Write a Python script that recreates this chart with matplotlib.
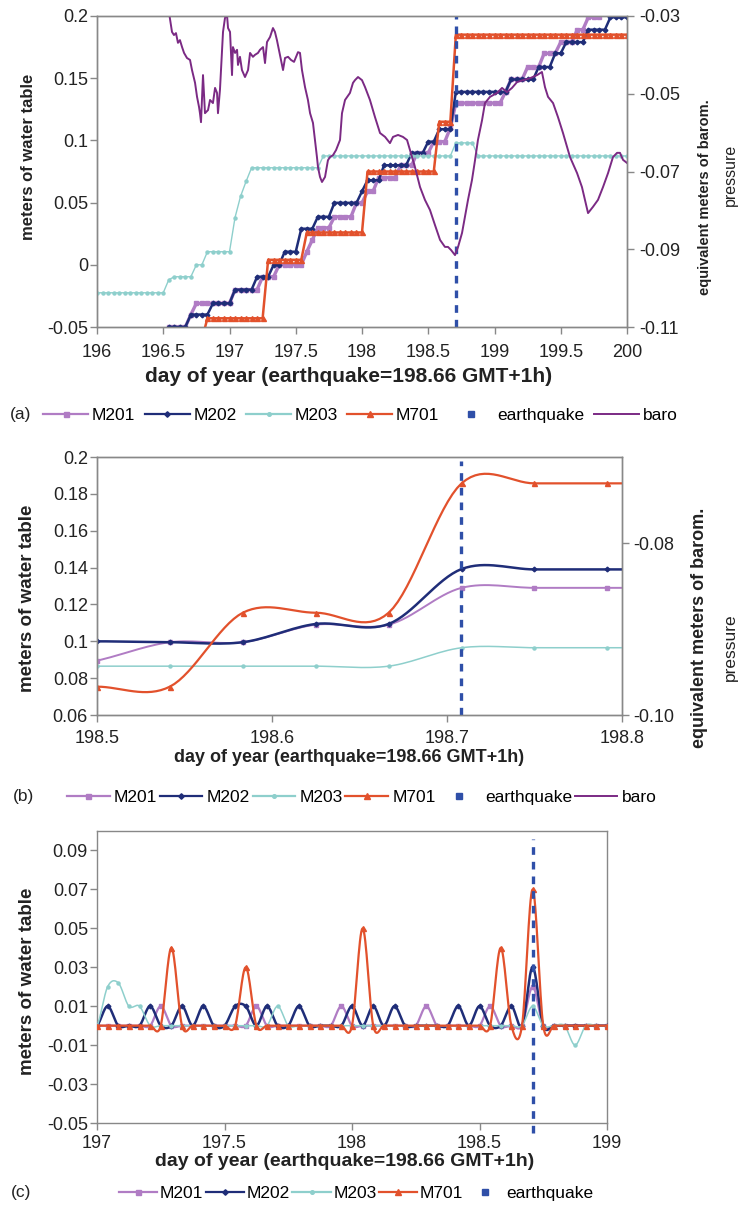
"""
Water table response to the earthquake at four wells (M201, M202, M203, M701)
with barometric pressure, three panels:
  (a) four days of hourly readings, (b) zoom on the quake, (c) hourly changes.
"""
import numpy as np
import matplotlib
matplotlib.use("Agg")
import matplotlib.pyplot as plt
from matplotlib.lines import Line2D

plt.rcParams["font.family"] = ["Liberation Sans", "DejaVu Sans"]
plt.rcParams["axes.unicode_minus"] = False

W, H = 739, 1215
EQ_DAY = 198.708

C201 = "#b07cc4"
C202 = "#1f2d78"
C203 = "#8ecfcc"
C701 = "#e2512c"
CEQ = "#2f4fa8"
CBARO = "#7b2a84"
SPINE = "#888888"
TXT = "#222222"

# ---- panel (a): hourly readings 196.0 .. 200.0 as runs of (level, hours)
a_m201_level = [-0.06, -0.05, -0.040, -0.031, -0.020, -0.0096, 0.0, 0.0105, 0.020,
                0.0297, 0.0386, 0.0498, 0.059, 0.070, 0.080, 0.090, 0.099, 0.110,
                0.130, 0.139, 0.149, 0.159, 0.170, 0.179, 0.189, 0.199, 0.21]
a_m201_hours = [13, 4, 1, 7, 5, 3, 5, 1, 1, 3, 4, 2, 2, 4, 3, 3, 3, 1, 9, 1, 3, 3, 3, 3, 2, 3, 5]

a_m202_level = [-0.06, -0.05, -0.040, -0.031, -0.020, -0.0096, 0.0, 0.0105, 0.029,
                0.0386, 0.0498, 0.059, 0.068, 0.080, 0.090, 0.099, 0.109, 0.139,
                0.149, 0.159, 0.170, 0.179, 0.189, 0.199]
a_m202_hours = [13, 4, 4, 4, 4, 3, 2, 3, 3, 3, 5, 1, 3, 5, 3, 2, 3, 10, 5, 3, 2, 4, 4, 4]

a_m203_level = [-0.0225, -0.012, -0.0096, 0.0, 0.0105, 0.038, 0.055, 0.067, 0.078,
                0.0875, 0.098, 0.0875]
a_m203_hours = [13, 1, 4, 2, 5, 1, 1, 1, 13, 24, 4, 28]

a_m701_level = [-0.06, -0.043, 0.004, 0.026, 0.075, 0.115, 0.185]
a_m701_hours = [20, 11, 7, 11, 13, 3, 32]

baro_day = [196.543, 196.566, 196.581, 196.596, 196.611, 196.626, 196.642, 196.657,
            196.679, 196.702, 196.717, 196.740, 196.755, 196.770, 196.777, 196.785,
            196.800, 196.815, 196.838, 196.853, 196.875, 196.891, 196.906, 196.913,
            196.928, 196.943, 196.951, 196.966, 196.981, 196.989, 197.004, 197.019,
            197.026, 197.042, 197.057, 197.064, 197.079, 197.094, 197.117, 197.140,
            197.155, 197.177, 197.192, 197.215, 197.230, 197.253, 197.268, 197.283,
            197.306, 197.328, 197.343, 197.358, 197.381, 197.404, 197.419, 197.442,
            197.464, 197.487, 197.517, 197.532, 197.547, 197.570, 197.592, 197.608,
            197.630, 197.645, 197.660, 197.668, 197.683, 197.698, 197.721, 197.743,
            197.758, 197.781, 197.804, 197.834, 197.849, 197.872, 197.909, 197.932,
            197.947, 197.970, 198.000, 198.023, 198.060, 198.098, 198.136, 198.174,
            198.211, 198.234, 198.272, 198.309, 198.340, 198.362, 198.400, 198.438,
            198.475, 198.513, 198.551, 198.589, 198.626, 198.649, 198.672, 198.702,
            198.725, 198.755, 198.777, 198.800, 198.830, 198.853, 198.875, 198.906,
            198.928, 198.966, 199.019, 199.057, 199.094, 199.132, 199.170, 199.215,
            199.268, 199.321, 199.358, 199.381, 199.404, 199.442, 199.479, 199.517,
            199.570, 199.623, 199.660, 199.683, 199.706, 199.743, 199.781, 199.819,
            199.857, 199.894, 199.925, 199.947, 199.970, 200.000]
baro_m = [-0.0290, -0.0341, -0.0349, -0.0344, -0.0369, -0.0362, -0.0380, -0.0395,
          -0.0408, -0.0413, -0.0439, -0.0472, -0.0508, -0.0534, -0.0550, -0.0573,
          -0.0452, -0.0550, -0.0542, -0.0516, -0.0524, -0.0485, -0.0498, -0.0550,
          -0.0490, -0.0395, -0.0341, -0.0305, -0.0297, -0.0331, -0.0341, -0.0452,
          -0.0380, -0.0395, -0.0387, -0.0426, -0.0405, -0.0439, -0.0457, -0.0439,
          -0.0395, -0.0405, -0.0400, -0.0395, -0.0387, -0.0380, -0.0421, -0.0367,
          -0.0354, -0.0331, -0.0341, -0.0362, -0.0400, -0.0439, -0.0408, -0.0405,
          -0.0413, -0.0418, -0.0393, -0.0395, -0.0439, -0.0483, -0.0516, -0.0550,
          -0.0575, -0.0619, -0.0663, -0.0689, -0.0714, -0.0727, -0.0714, -0.0671,
          -0.0663, -0.0658, -0.0645, -0.0619, -0.0550, -0.0516, -0.0498, -0.0472,
          -0.0465, -0.0457, -0.0465, -0.0483, -0.0516, -0.0560, -0.0601, -0.0611,
          -0.0627, -0.0611, -0.0606, -0.0611, -0.0619, -0.0645, -0.0689, -0.0740,
          -0.0773, -0.0799, -0.0838, -0.0876, -0.0894, -0.0894, -0.0902, -0.0915,
          -0.0894, -0.0858, -0.0817, -0.0773, -0.0722, -0.0671, -0.0619, -0.0568,
          -0.0524, -0.0508, -0.0498, -0.0485, -0.0496, -0.0485, -0.0470, -0.0465,
          -0.0460, -0.0452, -0.0444, -0.0483, -0.0508, -0.0524, -0.0560, -0.0601,
          -0.0663, -0.0704, -0.0740, -0.0773, -0.0807, -0.0791, -0.0773, -0.0740,
          -0.0704, -0.0663, -0.0652, -0.0652, -0.0670, -0.0678]

# ---- panel (b): hourly readings 198.458 .. 198.833 (first/last fall outside the axis)
b_m201 = [0.082, 0.0895, 0.0995, 0.0995, 0.109, 0.109, 0.129, 0.129, 0.129, 0.129]
b_m202 = [0.100, 0.100, 0.0995, 0.0995, 0.1094, 0.1094, 0.1392, 0.139, 0.139, 0.139]
b_m203 = [0.0865, 0.0865, 0.0865, 0.0865, 0.0865, 0.0865, 0.0965, 0.0965, 0.0965, 0.0965]
b_m701 = [0.076, 0.0754, 0.0754, 0.1155, 0.1155, 0.1155, 0.1857, 0.1857, 0.1857, 0.1857]

# ---- panel (c): hourly change 197.0 .. 199.0
c_m201 = [0, 0, 0, 0, 0, 0, .01, 0, 0, 0, 0, 0, 0, 0, 0, .01, 0, 0, 0, 0,
          0, 0, 0, .01, 0, 0, 0, 0, 0, 0, 0, .01, 0, 0, 0, 0, 0, .01, 0, 0,
          0, .02, 0, 0, 0, 0, 0, 0, 0]
c_m202 = [0, .01, 0, 0, 0, .01, 0, 0, .01, 0, .01, 0, 0, .01, .01, 0, .01, 0, 0, .01,
          0, 0, 0, 0, .01, 0, .01, 0, .01, 0, 0, 0, 0, 0, .01, 0, .01, 0, 0, .01,
          0, .03, 0, 0, 0, 0, 0, 0, 0]
c_m203 = [0, .02, .022, .01, .01, 0, 0, 0, 0, 0, 0, 0, 0, 0, 0, 0, 0, .01, 0, 0,
          0, 0, 0, 0, 0, 0, 0, 0, 0, 0, 0, 0, 0, 0, 0, 0, 0, 0, 0, 0,
          0, .01, 0, 0, 0, -.01, 0, 0, 0]
c_m701 = [0, 0, 0, 0, 0, 0, 0, .04, 0, 0, 0, 0, 0, 0, .03, 0, 0, 0, 0, 0,
          0, 0, 0, 0, 0, .05, 0, 0, 0, 0, 0, 0, 0, 0, 0, 0, 0, 0, .04, 0,
          0, .07, 0, 0, 0, 0, 0, 0, 0]

XLAB = "day of year (earthquake=198.66 GMT+1h)"
WELLS = ["M201", "M202", "M203", "M701"]
COLORS = [C201, C202, C203, C701]
MARKERS = ["s", "D", "o", "^"]
MSIZE = [3.2, 2.4, 2.2, 3.6]


def rect(l, t, r, b):
    return [l / W, 1 - b / H, (r - l) / W, (b - t) / H]


def smooth(x, y, n=16):
    """Excel-style smoothed line (Catmull-Rom through the points)."""
    x = np.asarray(x, float)
    y = np.asarray(y, float)
    yp = np.r_[y[0], y, y[-1]]
    t = np.linspace(0, 1, n, endpoint=False)
    h00 = 2 * t**3 - 3 * t**2 + 1
    h10 = t**3 - 2 * t**2 + t
    h01 = -2 * t**3 + 3 * t**2
    h11 = t**3 - t**2
    xs, ys = [], []
    for i in range(len(x) - 1):
        m0 = (yp[i + 2] - yp[i]) / 2
        m1 = (yp[i + 3] - yp[i + 1]) / 2
        xs.append(x[i] + t * (x[i + 1] - x[i]))
        ys.append(h00 * y[i] + h10 * m0 + h01 * y[i + 1] + h11 * m1)
    xs.append([x[-1]])
    ys.append([y[-1]])
    return np.concatenate(xs), np.concatenate(ys)


def style(ax, xpad, ypad, size=13):
    for s in ax.spines.values():
        s.set_color(SPINE)
        s.set_linewidth(1.0)
    ax.tick_params(axis="both", direction="out", length=5, width=1,
                   color=SPINE, labelcolor=TXT, labelsize=size)
    ax.tick_params(axis="x", pad=xpad)
    ax.tick_params(axis="y", pad=ypad)


def ftext(x, y, s, **kw):
    fig.text(x / W, 1 - y / H, s, ha="center", va="center", color=TXT, **kw)


def legend(y, x0, items, size, hl, cs, tp):
    handles = []
    for lab in items:
        if lab in WELLS:
            i = WELLS.index(lab)
            handles.append(Line2D([], [], color=COLORS[i], lw=1.6, marker=MARKERS[i],
                                  ms=MSIZE[i] + 0.4, mfc=COLORS[i], mec=COLORS[i]))
        elif lab == "earthquake":
            handles.append(Line2D([], [], ls="none", marker="s", ms=4, color=CEQ))
        else:
            handles.append(Line2D([], [], color=CBARO, lw=1.4))
    fig.legend(handles, items, loc="center left", bbox_to_anchor=(x0 / W, 1 - y / H),
               ncol=len(items), frameon=False, fontsize=size, handlelength=hl,
               columnspacing=cs, handletextpad=tp, borderpad=0, borderaxespad=0,
               numpoints=1)


fig = plt.figure(figsize=(W / 100, H / 100), dpi=100)

# ================= (a)
ax = fig.add_axes(rect(97, 16, 627, 327))
hours = 196.0 + np.arange(97) / 24
series_a = [(a_m201_level, a_m201_hours), (a_m202_level, a_m202_hours),
            (a_m203_level, a_m203_hours), (a_m701_level, a_m701_hours)]
lws = [2.4, 1.8, 1.0, 1.8]
for (lev, cnt), c, m, ms, lw in zip(series_a, COLORS, MARKERS, MSIZE, lws):
    ax.plot(hours, np.repeat(lev, cnt), color=c, lw=lw, marker=m, ms=ms,
            mfc=c, mec=c, zorder=3)
ax.axvline(EQ_DAY, color=CEQ, lw=2.4, dashes=(2.3, 2.1), zorder=4)
ax.set_xlim(196, 200)
ax.set_ylim(-0.05, 0.2)
ax.set_xticks(np.arange(196, 200.01, 0.5))
ax.set_xticklabels([f"{v:g}" for v in np.arange(196, 200.01, 0.5)])
ax.set_yticks([-0.05, 0, 0.05, 0.1, 0.15, 0.2])
ax.set_yticklabels(["-0.05", "0", "0.05", "0.1", "0.15", "0.2"])
style(ax, 7, 1.5)

ax2 = ax.twinx()
ax2.plot(baro_day, baro_m, color=CBARO, lw=1.4, zorder=2)
ax2.set_ylim(-0.11, -0.03)
ax2.set_yticks([-0.11, -0.09, -0.07, -0.05, -0.03])
ax2.set_yticklabels([f"{v:.2f}" for v in [-0.11, -0.09, -0.07, -0.05, -0.03]])
style(ax2, 7, 3.5)

ftext(29, 157, "meters of water table", rotation=90, fontsize=12, fontweight="bold")
ftext(349, 376, XLAB, fontsize=15, fontweight="bold")
ftext(705, 197, "equivalent meters of barom.", rotation=90, fontsize=10.5, fontweight="bold")
ftext(730, 175, "pressure", rotation=90, fontsize=11.5)
ftext(21, 415, "(a)", fontsize=12.5)
legend(415, 43, ["M201", "M202", "M203", "M701", "earthquake", "baro"], 12.5, 2.6, 0.55, 0.2)

# ================= (b)
bx = fig.add_axes(rect(97, 457, 622, 715))
bdays = 198.5 + np.arange(-1, 9) / 24
for vals, c, m, ms, lw in zip([b_m201, b_m202, b_m203, b_m701], COLORS, MARKERS, MSIZE,
                              [1.4, 1.8, 1.1, 1.6]):
    sx, sy = smooth(bdays, vals)
    bx.plot(sx, sy, color=c, lw=lw, zorder=3)
    bx.plot(bdays, vals, ls="none", marker=m, ms=ms, mfc=c, mec=c, zorder=3)
bx.plot([EQ_DAY, EQ_DAY], [0.06, 0.198], color=CEQ, lw=2.4, dashes=(2.3, 2.1), zorder=4)
bx.set_xlim(198.5, 198.8)
bx.set_ylim(0.06, 0.2)
bx.set_xticks([198.5, 198.6, 198.7, 198.8])
bx.set_xticklabels(["198.5", "198.6", "198.7", "198.8"])
bx.set_yticks(np.arange(0.06, 0.201, 0.02))
bx.set_yticklabels([f"{v:g}" for v in np.round(np.arange(0.06, 0.201, 0.02), 2)])
style(bx, 6, 1.5)
bx2 = bx.twinx()
bx2.set_ylim(-0.10, -0.07)
bx2.set_yticks([-0.10, -0.08])
bx2.set_yticklabels(["-0.10", "-0.08"])
style(bx2, 6, 3)

ftext(28, 598, "meters of water table", rotation=90, fontsize=13.5, fontweight="bold")
ftext(349, 757, XLAB, fontsize=13, fontweight="bold")
ftext(700, 628, "equivalent meters of barom.", rotation=90, fontsize=13, fontweight="bold")
ftext(730, 647, "pressure", rotation=90, fontsize=12.5)
ftext(23, 797, "(b)", fontsize=12.5)
legend(797, 67, ["M201", "M202", "M203", "M701", "earthquake", "baro"], 12.5, 2.45, 0.15, 0.25)

# ================= (c)
cx = fig.add_axes(rect(97, 831, 607, 1123))
cdays = 197.0 + np.arange(49) / 24
for vals, c, m, ms, lw in zip([c_m201, c_m202, c_m203, c_m701], COLORS, MARKERS, MSIZE,
                              [1.6, 1.8, 1.1, 1.6]):
    sx, sy = smooth(cdays, vals)
    cx.plot(sx, sy, color=c, lw=lw, zorder=3)
    cx.plot(cdays, vals, ls="none", marker=m, ms=ms, mfc=c, mec=c, zorder=3)
cx.plot([EQ_DAY, EQ_DAY], [-0.055, 0.096], color=CEQ, lw=2.4, dashes=(2.3, 2.1),
        zorder=4, clip_on=False)
cx.set_xlim(197, 199)
cx.set_ylim(-0.05, 0.1)
cx.set_xticks([197, 197.5, 198, 198.5, 199])
cx.set_xticklabels(["197", "197.5", "198", "198.5", "199"])
cx.set_yticks(np.arange(-0.05, 0.091, 0.02))
cx.set_yticklabels([f"{v:g}" for v in np.round(np.arange(-0.05, 0.091, 0.02), 2)])
style(cx, 3.5, 1.5)

ftext(28, 981, "meters of water table", rotation=90, fontsize=13.5, fontweight="bold")
ftext(345, 1161, XLAB, fontsize=14, fontweight="bold")
ftext(21, 1193, "(c)", fontsize=12.5)
legend(1193, 119, ["M201", "M202", "M203", "M701", "earthquake"], 12.5, 2.2, 0.15, 0.15)

fig.savefig("out.png", dpi=100)
